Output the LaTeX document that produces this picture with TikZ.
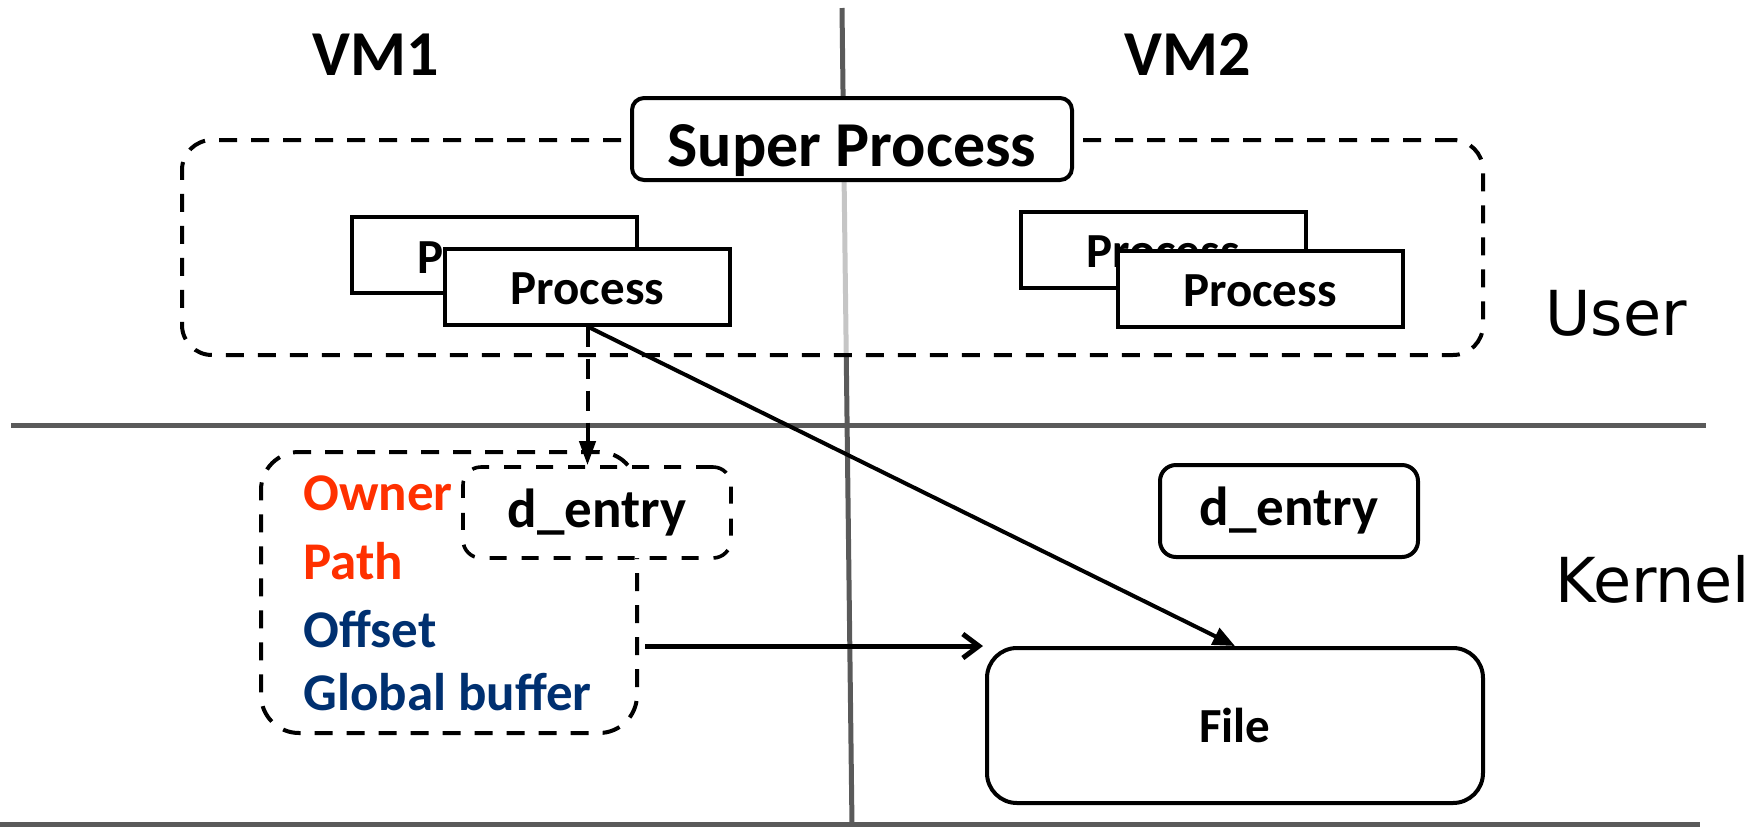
\documentclass[tikz,border=0pt]{standalone}
\usepackage{fontspec}
\setmainfont{Carlito}
\newfontfamily\dejavu{DejaVu Sans}
\usetikzlibrary{arrows.meta}
\definecolor{ownred}{RGB}{255,48,0}
\definecolor{navyblue}{RGB}{0,48,112}
\definecolor{divgray}{RGB}{90,90,90}
\begin{document}
\begin{tikzpicture}[x=0.5pt,y=-0.5pt,
  divider/.style={draw=divgray, line width=2.5pt},
  dsh/.style={dash pattern=on 9pt off 7pt},
  boldtext/.style={font=\fontsize{#1}{#1}\selectfont\bfseries},
  procbox/.style={draw, line width=2pt, fill=white, minimum width=142.5pt,
    minimum height=38pt, inner sep=0pt, text height=18pt, text depth=0pt, boldtext=24.5},
  fieldtext/.style={anchor=base west, inner sep=0pt, boldtext=26.5},
  layertext/.style={anchor=base west, inner sep=0pt, font=\dejavu\fontsize{31}{31}\selectfont},
  vmtext/.style={anchor=base, inner sep=0pt, boldtext=32},
]
\useasboundingbox (0,0) rectangle (1758,826);

% layer separators
\draw[divider] (11,425) -- (1706,425);
\draw[divider] (0,824) -- (1700,824);
\draw[divider] (842,8) -- (852,826);

% labels
\node[vmtext] (vm1) at (376,75) {VM1};
\node[vmtext] (vm2) at (1188,75) {VM2};
\node[layertext] (user) at (1545,335) {User};
\node[layertext] (kernel) at (1555,602) {Kernel};

% super process group
\node[draw, line width=2pt, dsh, fill=white, fill opacity=0.65, rounded corners=15pt,
  minimum width=650.5pt, minimum height=107.5pt] (group) at (832.5,247.5) {};
\node[draw, line width=2pt, fill=white, rounded corners=6pt, minimum width=220pt,
  minimum height=41pt, inner sep=0pt, text height=27pt, text depth=0pt, boldtext=32]
  (super) at (852,139) {Super Process};

% processes
\node[procbox] (p1b) at (494.5,255) {Process};
\node[procbox] (p1f) at (587.5,286.5) {Process};
\node[procbox] (p2b) at (1163,249.5) {Process};
\node[procbox] (p2f) at (1260,288.5) {Process};

% kernel structure of VM1
\node[draw, line width=2pt, dsh, rounded corners=19pt, minimum width=188pt,
  minimum height=140.5pt] (meta) at (449,592.5) {};
\node[fieldtext, text=ownred] (owner) at (303,510) {Owner};
\node[fieldtext, text=ownred] (path) at (303,579) {Path};
\node[fieldtext, text=navyblue] (offset) at (303,647) {Offset};
\node[fieldtext, text=navyblue] (gbuf) at (303,710) {Global buffer};

\node[draw, line width=1.8pt, dash pattern=on 8.5pt off 7.5pt, fill=white,
  rounded corners=9pt, minimum width=134pt, minimum height=45.5pt, inner sep=0pt,
  boldtext=27.5] (d1) at (597,512.5) {d\_entry};
\node[draw, line width=2pt, fill=white, rounded corners=8pt, minimum width=129pt,
  minimum height=46pt, inner sep=0pt, boldtext=27.5] (d2) at (1289,511) {d\_entry};
\node[draw, line width=2pt, fill=white, rounded corners=15pt, minimum width=248pt,
  minimum height=77.5pt, inner sep=0pt, boldtext=24.5] (file) at (1235,725.5) {File};

% connectors
\draw[line width=2pt, dash pattern=on 10pt off 6pt, -{Triangle[length=12pt,width=8pt]}]
  (p1f.south) -- (p1f.south |- d1.north);
\draw[line width=2pt, -{Triangle[length=11pt,width=9pt]}] (p1f.south) -- (file.north);
\draw[line width=2.5pt, -{Straight Barb[length=8pt,width=12pt,line width=2.5pt]}]
  ([xshift=3pt]meta.east |- file.north west) -- ([xshift=-1pt]file.north west);
\end{tikzpicture}
\end{document}
